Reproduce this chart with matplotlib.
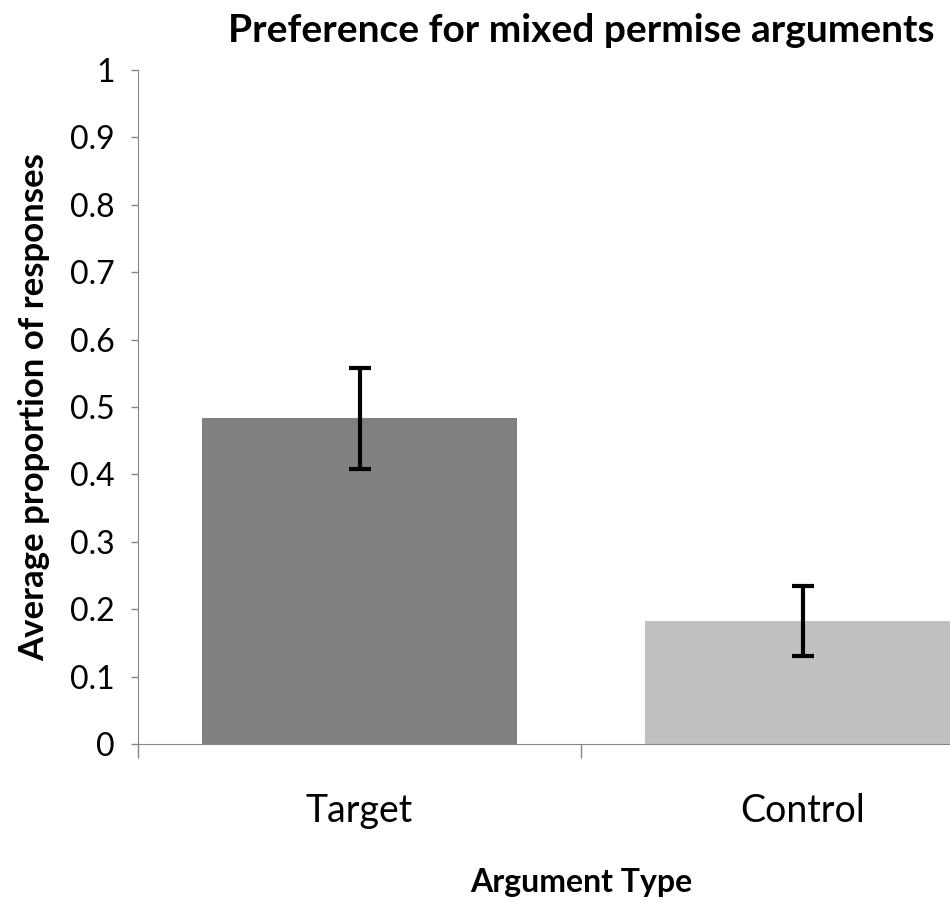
import numpy as np
import matplotlib
matplotlib.use("Agg")
import matplotlib.pyplot as plt

plt.rcParams['font.family'] = ['Lato', 'DejaVu Sans']

# data
categories = ["Target", "Control"]
means = [0.483, 0.183]
errors = [0.075, 0.052]
bar_colors = ["#808080", "#c0c0c0"]
yticks = [0, 0.1, 0.2, 0.3, 0.4, 0.5, 0.6, 0.7, 0.8, 0.9, 1]
ytick_labels = ["0", "0.1", "0.2", "0.3", "0.4", "0.5", "0.6", "0.7", "0.8", "0.9", "1"]

fig = plt.figure(figsize=(9.5, 9.05), dpi=100)
# axes runs past the right edge of the figure, like the original crop
ax = fig.add_axes([138 / 950, 161 / 905, 886 / 950, 674 / 905])

x = np.arange(len(categories))
ax.bar(x, means, width=0.71, color=bar_colors, zorder=2)
ax.errorbar(x, means, yerr=errors, fmt="none", ecolor="black",
            elinewidth=3, capsize=8, capthick=3, zorder=3)

ax.set_xlim(-0.5, 1.5)
ax.set_ylim(0, 1)
ax.set_yticks(yticks)
ax.set_yticklabels(ytick_labels, fontsize=23)

ax.set_xticks(x)
ax.set_xticklabels(categories, fontsize=27)
ax.tick_params(axis="x", which="major", length=0, pad=35)
ax.set_xticks([-0.5, 0.5, 1.5], minor=True)
ax.tick_params(axis="x", which="minor", length=10, color="#868686", width=1)
ax.tick_params(axis="y", length=5, color="#868686", width=1, pad=12)

for side in ["top", "right"]:
    ax.spines[side].set_visible(False)
for side in ["left", "bottom"]:
    ax.spines[side].set_color("#868686")

ax.set_title("Preference for mixed permise arguments", fontsize=28,
             fontweight="bold", pad=20)
ax.set_ylabel("Average proportion of responses", fontsize=25,
              fontweight="bold", labelpad=14)
ax.set_xlabel("Argument Type", fontsize=23, fontweight="bold", labelpad=28)

fig.savefig("out.png", dpi=100)
